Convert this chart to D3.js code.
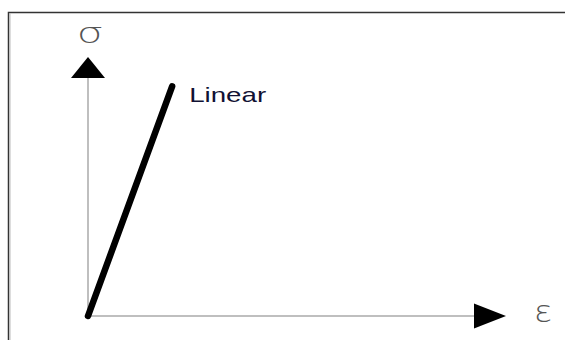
<!DOCTYPE html>
<html>
<head>
<meta charset="utf-8">
<script src="https://cdn.jsdelivr.net/npm/d3@7"></script>
<style>
  body { margin: 0; background: #fff; }
  svg { display: block; }
</style>
</head>
<body>
<svg></svg>
<script>
// linear stress-strain curve (arbitrary units)
let strain = [0, 0.218]
let stress = [0, 0.965]
let seriesName = 'Linear'
let xLabel = 'ε'
let yLabel = 'σ'

let width = 565
let height = 340

let svg = d3.select('svg')
            .attr('width', width)
            .attr('height', height)

// frame (top + left edge only)
svg.append('path')
    .attr('d', 'M8.5,340 L8.5,12.5 L565,12.5')
    .attr('fill', 'none')
    .attr('stroke', '#333')
    .attr('stroke-width', 1.5)
svg.append('line')
    .attr('x1', 10).attr('x2', 10).attr('y1', 13).attr('y2', 340)
    .attr('stroke', '#bbb').attr('stroke-width', 1)

let x = d3.scaleLinear().domain([0, 1]).range([88, 474])
let y = d3.scaleLinear().domain([0, 1]).range([316, 78])

// axes
svg.append('line')
    .attr('x1', x(0)).attr('y1', y(0)).attr('x2', x(1)).attr('y2', y(0))
    .attr('stroke', '#aaa').attr('stroke-width', 1.5)
svg.append('line')
    .attr('x1', x(0)).attr('y1', y(0)).attr('x2', x(0)).attr('y2', y(1))
    .attr('stroke', '#aaa').attr('stroke-width', 1.5)

// arrow heads
svg.append('path')
    .attr('d', `M${x(1)},${y(0) - 12.5} L${x(1) + 32},${y(0)} L${x(1)},${y(0) + 12.5} Z`)
    .attr('fill', '#000')
svg.append('path')
    .attr('d', `M${x(0) - 17},${y(1)} L${x(0)},${y(1) - 21} L${x(0) + 17},${y(1)} Z`)
    .attr('fill', '#000')

// axis labels
svg.append('text')
    .attr('transform', 'translate(90,43) scale(1.5,1)')
    .attr('text-anchor', 'middle')
    .style('font-family', 'DejaVu Sans')
    .style('font-weight', '200')
    .style('font-size', '28px')
    .attr('fill', '#555')
    .text(yLabel)
svg.append('text')
    .attr('transform', 'translate(543,322) scale(1.15,1)')
    .attr('text-anchor', 'middle')
    .style('font-family', 'DejaVu Sans')
    .style('font-weight', '200')
    .style('font-size', '30px')
    .attr('fill', '#555')
    .text(xLabel)

// the linear curve
let pts = strain.map((s, i) => [s, stress[i]])
let line = d3.line()
    .x(d => x(d[0]))
    .y(d => y(d[1]))
svg.append('path')
    .datum(pts)
    .attr('d', line)
    .attr('fill', 'none')
    .attr('stroke', '#000')
    .attr('stroke-width', 6.5)
    .attr('stroke-linecap', 'round')

let last = pts[pts.length - 1]
svg.append('text')
    .attr('x', x(last[0]) + 17)
    .attr('y', y(last[1]) + 16)
    .attr('textLength', 77)
    .attr('lengthAdjust', 'spacingAndGlyphs')
    .style('font-family', 'Liberation Sans, Arial, sans-serif')
    .style('font-size', '21px')
    .attr('fill', '#111133')
    .text(seriesName)
</script>
</body>
</html>
